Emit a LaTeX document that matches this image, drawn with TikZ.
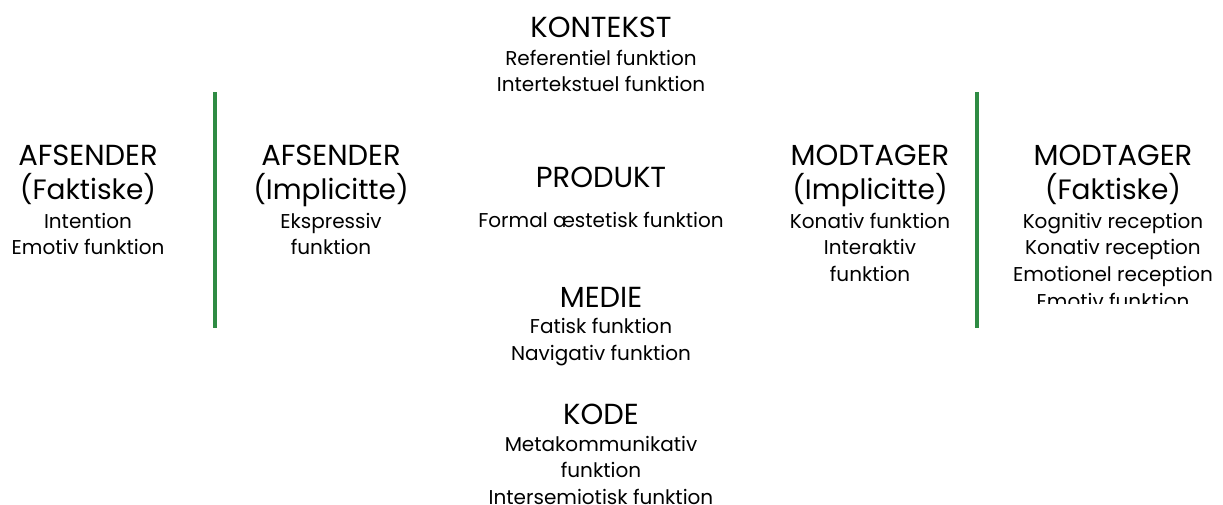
\documentclass[tikz,border=0pt]{standalone}
\usepackage{fontspec}
\setmainfont{Poppins}
\usetikzlibrary{positioning}
\definecolor{linegreen}{RGB}{46,139,67}
\newcommand{\headfont}{\fontsize{29}{34}\selectfont}
\newcommand{\bodyfont}{\fontsize{20}{26.7}\selectfont}

\begin{document}
\begin{tikzpicture}[x=1pt,y=-1pt]
	\tikzset{head/.style={font=\headfont, align=center, inner sep=0pt, anchor=base}}
	\tikzset{sub/.style={head, font=\fontsize{28}{34}\selectfont}}
	% body nodes sit on the baseline of their last line
	\tikzset{body/.style={font=\bodyfont, align=center, inner sep=0pt, anchor=base}}
	\tikzset{divider/.style={draw=linegreen, line width=4pt}}
	\useasboundingbox (0,0) rectangle (1223,504);
	\clip (0,0) rectangle (1223,504);
	% midten
	\node[head] (kontekst) at (601,37) {KONTEKST};
	\node[body] (kontekstfn) at (601,91.7) {Referentiel funktion\\Intertekstuel funktion};
	\node[head] (produkt) at (601,187) {PRODUKT};
	\node[body] (produktfn) at (601,227) {Formal æstetisk funktion};
	\node[head] (medie) at (601,307) {MEDIE};
	\node[body] (mediefn) at (601,360) {Fatisk funktion\\Navigativ funktion};
	\node[head] (kode) at (601,424) {KODE};
	\node[body] (kodefn) at (601,504.4) {Metakommunikativ\\funktion\\Intersemiotisk funktion};
	% afsender
	\node[head] (afsf) at (88,165) {AFSENDER};
	\node[sub] (afsfsub) at (88,199) {(Faktiske)};
	\node[body] (afsffn) at (88,254.7) {Intention\\Emotiv funktion};
	\node[head] (afsi) at (331,165) {AFSENDER};
	\node[sub] (afsisub) at (331,199) {(Implicitte)};
	\node[body] (afsifn) at (331,254.7) {Ekspressiv\\funktion};
	% modtager
	\node[head] (modi) at (870,165) {MODTAGER};
	\node[sub] (modisub) at (870,199) {(Implicitte)};
	\node[body] (modifn) at (870,281.4) {Konativ funktion\\Interaktiv\\funktion};
	\begin{scope}
		\clip (990,0) rectangle (1223,303);
		\node[head] (modf) at (1113,165) {MODTAGER};
		\node[sub] (modfsub) at (1113,199) {(Faktiske)};
		\node[body] (modffn) at (1113,308.1) {Kognitiv reception\\Konativ reception\\Emotionel reception\\Emotiv funktion};
	\end{scope}
	% skillelinjer
	\coordinate (v1top) at (215,92);
	\coordinate (v1bot) at (215,328);
	\coordinate (v2top) at (977,92);
	\coordinate (v2bot) at (977,328);
	\draw[divider] (v1top) -- (v1bot);
	\draw[divider] (v2top) -- (v2bot);
\end{tikzpicture}
\end{document}
